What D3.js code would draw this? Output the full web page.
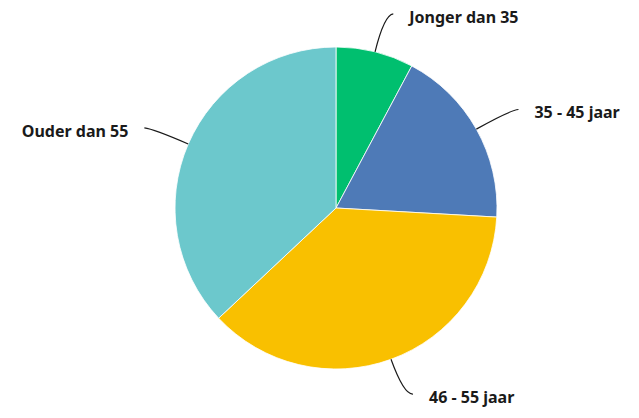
<!DOCTYPE html>
<html>
<head>
<meta charset="utf-8">
<script src="https://cdn.jsdelivr.net/npm/d3@7"></script>
<style>
  html, body { margin: 0; padding: 0; background: #fff; }
</style>
</head>
<body>
<div id="pie-chart"></div>
<script>
const labels = ["Jonger dan 35", "35 - 45 jaar", "46 - 55 jaar", "Ouder dan 55"];
const values = [7.8, 18.1, 37.1, 37.0];
const colors = ["#00bf6f", "#4e7ab7", "#f9c000", "#6cc8cc"];

function chart() {
    const width = 639,
        height = 418;
    const cx = 336, cy = 208, radius = 161;

    const svg = d3.select("#pie-chart").append("svg")
        .attr("width", width)
        .attr("height", height)
        .style("font", "700 16px 'Noto Sans', sans-serif");

    const g = svg.append("g")
        .attr("transform", `translate(${cx},${cy})`);

    const pie = d3.pie().sort(null).value(d => d.value);
    const arcs = pie(labels.map((l, i) => ({label: l, value: values[i], color: colors[i]})));

    const arc = d3.arc().innerRadius(0).outerRadius(radius);

    g.append("g")
        .selectAll("path")
        .data(arcs)
        .join("path")
        .attr("fill", d => d.data.color)
        .attr("stroke", "#fff")
        .attr("stroke-width", 0.8)
        .attr("d", arc);

    // point on a circle of radius r at the middle of the slice
    const radial = (d, r) => {
        const a = (d.startAngle + d.endAngle) / 2;
        return [r * Math.sin(a), -r * Math.cos(a)];
    };

    const leaders = arcs.map(d => {
        const a = (d.startAngle + d.endAngle) / 2;
        const side = Math.sin(a) >= 0 ? 1 : -1;
        const p0 = radial(d, radius);
        const c = radial(d, radius + 38);
        const p2 = [c[0] + side * 9, c[1] - 1];
        return {d, side, p0, c, p2};
    });

    g.append("g")
        .attr("fill", "none")
        .attr("stroke", "#1a1a1a")
        .attr("stroke-width", 1.2)
        .selectAll("path")
        .data(leaders)
        .join("path")
        .attr("d", l => `M${l.p0[0]},${l.p0[1]}Q${l.c[0]},${l.c[1]} ${l.p2[0]},${l.p2[1]}`);

    g.append("g")
        .attr("fill", "#1a1a1a")
        .selectAll("text")
        .data(leaders)
        .join("text")
        .attr("x", l => l.p2[0] + l.side * 16)
        .attr("y", l => l.p2[1] + 3)
        .attr("dy", "0.35em")
        .attr("text-anchor", l => l.side > 0 ? "start" : "end")
        .text(l => l.d.data.label);
}

window.onload = function() {
    chart();
};
</script>
</body>
</html>
